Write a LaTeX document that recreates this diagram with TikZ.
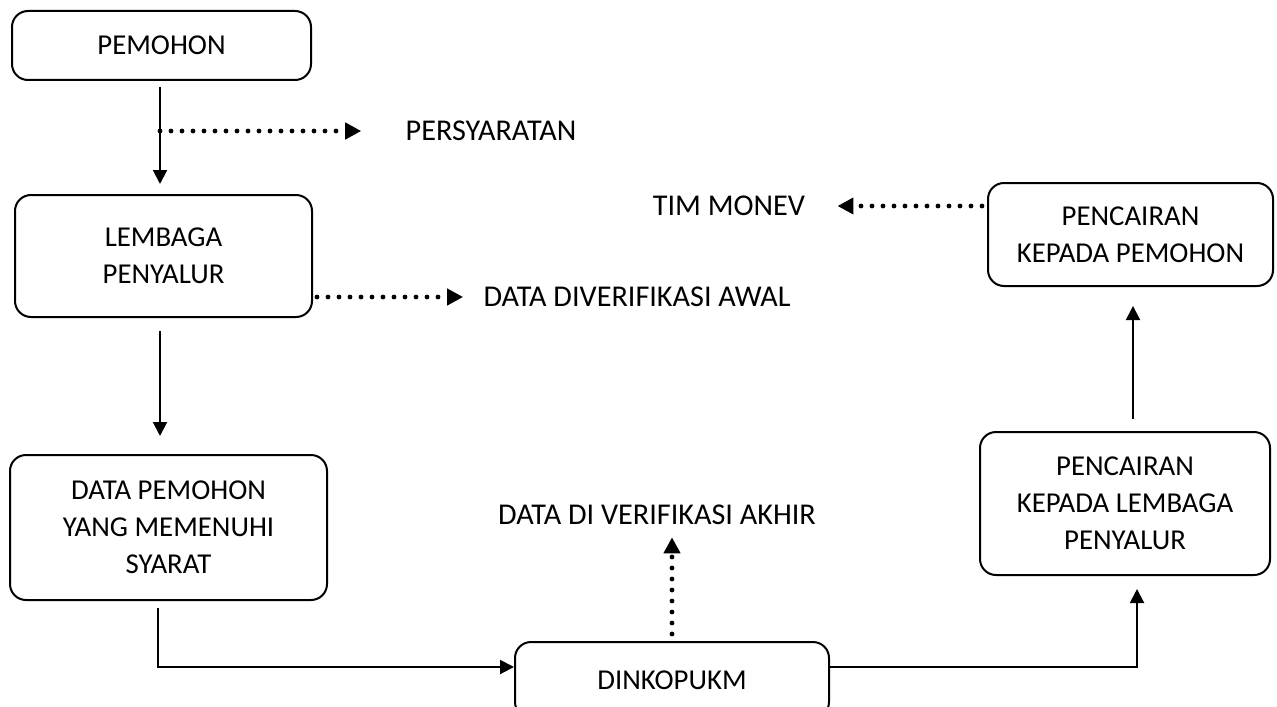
\documentclass[tikz,border=0pt]{standalone}
\usepackage{fontspec}
\setmainfont{Carlito}
\usetikzlibrary{arrows.meta,positioning}

\tikzset{
  box/.style={draw,line width=1pt,rounded corners=8pt,align=center,inner sep=0pt},
  lbl/.style={align=center,inner sep=1pt,font=\fontsize{15.1}{18.5}\selectfont},
  flow/.style={->,line width=1pt},
  dots/.style={->,line width=2.4pt,line cap=round,dash pattern=on 0pt off 5.5pt,>={Triangle[length=8pt,width=8pt]}}
}

\begin{document}
\begin{tikzpicture}[x=0.5pt,y=-0.5pt,>={Triangle[length=7pt,width=7pt]},font=\fontsize{14.4}{18.5}\selectfont]

\useasboundingbox (0,0) rectangle (1277,706);

\node[box,minimum width=149.5pt,minimum height=34.5pt] (pemohon) at (161.5,45.5) {PEMOHON};
 \node[box,minimum width=148.5pt,minimum height=61pt] (lembaga) at (163.5,256) {LEMBAGA\\PENYALUR};
	\node[box,minimum width=158.5pt,minimum height=72.5pt] (syarat) at (168.5,527.5) {DATA PEMOHON\\YANG MEMENUHI\\SYARAT};
	\node[box,minimum width=157pt,minimum height=38pt] (dinkop) at (672,680) {DINKOPUKM};
	\node[box,minimum width=145pt,minimum height=71.5pt] (cairlembaga) at (1125,503.5) {PENCAIRAN\\KEPADA LEMBAGA\\PENYALUR};
	\node[box,minimum width=142.5pt,minimum height=51.5pt] (cairpemohon) at (1130.5,234.5) {PENCAIRAN\\KEPADA PEMOHON};

	\node[lbl] (persyaratan) at (491,131) {PERSYARATAN};
	\node[lbl] (awal) at (637,297) {DATA DIVERIFIKASI AWAL};
	\node[lbl] (akhir) at (657,515) {DATA DI VERIFIKASI AKHIR};
	\node[lbl] (monev) at (729,206) {TIM MONEV};

	\draw[flow,shorten <=3pt,shorten >=5pt] ([xshift=-0.75pt]pemohon.south) -- ([xshift=-0.75pt]pemohon.south |- lembaga.north);
	\draw[dots,shorten >=21pt] ([xshift=-0.75pt]pemohon.south |- persyaratan) -- (persyaratan.west);
	\draw[dots,shorten <=2pt,shorten >=9pt] (lembaga.east |- awal) -- (awal.west);
	\draw[flow,shorten <=6.5pt,shorten >=9pt] ([xshift=-1.75pt]lembaga.south) -- ([xshift=-1.75pt]lembaga.south |- syarat.north);
	\draw[flow,shorten <=3.5pt] ([xshift=-5.5pt]syarat.south) |- ([yshift=6.5pt]dinkop.west);
	\draw[dots,shorten <=3.5pt,shorten >=5pt] (dinkop.north) -- (akhir.south -| dinkop.north);
	\draw[flow,shorten >=6.5pt] ([yshift=6.5pt]dinkop.east) -| ([xshift=6pt]cairlembaga.south);
	\draw[flow,shorten <=6pt,shorten >=9.5pt] ([xshift=4pt]cairlembaga.north) -- ([xshift=4pt]cairlembaga.north |- cairpemohon.south);
	\draw[dots,shorten <=2.5pt,shorten >=15pt] (cairpemohon.west |- monev) -- (monev.east);

\end{tikzpicture}
\end{document}
